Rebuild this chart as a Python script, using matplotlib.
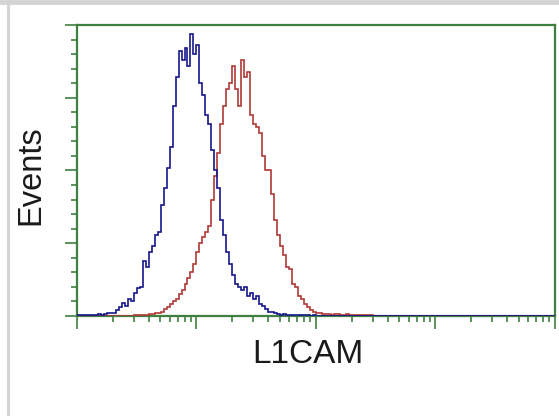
import numpy as np
import matplotlib
matplotlib.use("Agg")
import matplotlib.pyplot as plt
from matplotlib.lines import Line2D
from matplotlib.ticker import MultipleLocator, LogLocator, NullFormatter

# channel grid: 160 channels over 4 log decades
decades = 4
n_channels = 160

# isotype control (blue) counts per channel
blue_counts = [
    0.3, 0.3, 0.5, 0.3, 0.5, 0.5, 0.3, 0.6, 0.5, 0.8,
    1.0, 1.2, 1.0, 2.2, 3.0, 4.3, 3.5, 6.0, 5.0, 8.0,
    9.5, 10, 19, 17, 22, 24, 28, 29, 38, 44,
    51, 58, 72, 82, 91, 88, 92, 86, 97, 90,
    93, 80, 76, 69, 66, 57, 50, 44, 33, 28,
    22, 18, 14, 11, 10, 9, 10, 7, 8, 6,
    7, 4, 3.5, 2.5, 1.5, 1.5, 1.0, 0.8, 0.5, 0.7,
    0.4, 0.3, 0.5, 0.2, 0.4, 0.3, 0.2, 0.3, 0.1, 0.2,
] + [0] * 80

# L1CAM stained (red) counts per channel
red_counts = [0] * 19 + [
    0.2, 0.3, 0.3, 0.4, 0.5, 0.6, 0.8, 1.0, 1.2, 1.5,
    2.5, 3.0, 4.0, 5.0, 6.0, 7.5, 9, 11, 13, 15,
    18, 22, 25, 27, 29, 31, 40, 48, 56, 66,
    72, 78, 80, 86, 78, 72, 88, 82, 84, 69,
    66, 65, 63, 55, 50, 50, 42, 33, 28, 24,
    21, 17, 16, 11, 10, 7, 6, 4, 3, 2.2,
    1.5, 1.2, 1.0, 0.8, 0.6, 0.7, 0.5, 0.6, 0.8, 0.5,
    0.4, 0.6, 0.5, 0.3, 0.4, 0.5, 0.3, 0.2, 0.3, 0.2,
    0.1, 0.1,
]
red_counts = red_counts + [0] * (n_channels - len(red_counts))

x_label = "L1CAM"
y_label = "Events"
y_max = 100

green = "#3f7f3f"

fig = plt.figure(figsize=(5.59, 4.16), dpi=100)
ax = fig.add_axes([0.1377, 0.2404, 0.855, 0.6996])

edges = 10 ** (np.linspace(0, decades, n_channels + 1))
ax.stairs(red_counts, edges, color="#b03a36", lw=1.2, zorder=3)
ax.stairs(blue_counts, edges, color="#16168c", lw=1.2, zorder=4)

ax.set_xscale("log")
ax.set_xlim(1, 10 ** decades)
ax.set_ylim(0, y_max)

ax.xaxis.set_major_locator(LogLocator(base=10))
ax.xaxis.set_minor_locator(LogLocator(base=10, subs=np.arange(2, 10)))
ax.xaxis.set_major_formatter(NullFormatter())
ax.xaxis.set_minor_formatter(NullFormatter())
ax.yaxis.set_major_locator(MultipleLocator(25))
ax.yaxis.set_minor_locator(MultipleLocator(5))
ax.yaxis.set_major_formatter(NullFormatter())

ax.tick_params(which="both", direction="out", color=green, width=1.2)
ax.tick_params(which="major", length=9)
ax.tick_params(which="minor", length=4)

for side in ax.spines.values():
    side.set_color(green)
    side.set_linewidth(1.6)

fig.text(0.550, 0.147, x_label, ha="center", va="center",
         fontsize=24, family="Liberation Sans", color="#1a1a1a")
fig.text(0.056, 0.578, y_label, ha="center", va="center", rotation=90,
         fontsize=23.5, family="Liberation Sans", color="#1a1a1a")

# light grey border of the source image
fig.add_artist(Line2D([0, 1], [0.995, 0.995], transform=fig.transFigure,
                      color="#d4d4d4", lw=3.5))
fig.add_artist(Line2D([0.0143, 0.0143], [0, 1], transform=fig.transFigure,
                      color="#d4d4d4", lw=2.2))

fig.savefig("out.png", dpi=100)
